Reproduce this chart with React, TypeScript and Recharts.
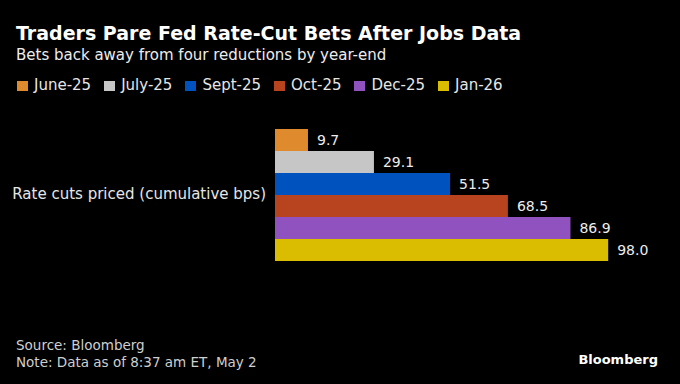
import { BarChart, Bar, XAxis, YAxis, LabelList } from "recharts";

const category = "Rate cuts priced (cumulative bps)";
const meetings = ["June-25", "July-25", "Sept-25", "Oct-25", "Dec-25", "Jan-26"];
const cutsPriced = [9.7, 29.1, 51.5, 68.5, 86.9, 98.0];

const COLORS = ["#E08A2E", "#C6C6C6", "#0052BE", "#B8431F", "#9052BE", "#DABC00"];

const FONT = "'DejaVu Sans', Verdana, sans-serif";

const row: Record<string, string | number> = { name: category };
meetings.forEach((m, i) => {
    row[m] = cutsPriced[i];
});
const data = [row];

function CategoryTick({ x, y, payload }: any) {
    return (
        <text x={x - 1} y={y} dy={5.5} textAnchor="end" fill="#E6E6E6" fontSize={15} fontFamily={FONT}>
            {payload.value}
        </text>
    );
}

export default function App() {
    return (
        <div
            style={{
                position: "fixed",
                left: 0,
                top: 0,
                width: 680,
                height: 384,
                background: "#000",
                fontFamily: FONT,
                color: "#fff",
                overflow: "hidden",
            }}
        >
            <svg width={680} height={384} style={{ position: "absolute", left: 0, top: 0 }} fontFamily={FONT}>
                <text x={16} y={40} fontSize={19} fontWeight={700} fill="#fff">
                    Traders Pare Fed Rate-Cut Bets After Jobs Data
                </text>
                <text x={16} y={60} fontSize={15} fill="#EDEDED">
                    Bets back away from four reductions by year-end
                </text>
                <text x={16} y={350} fontSize={13.5} fill="#CFCFCF">
                    Source: Bloomberg
                </text>
                <text x={16} y={367} fontSize={13.5} fill="#CFCFCF">
                    Note: Data as of 8:37 am ET, May 2
                </text>
                <text x={658} y={364} fontSize={13} fontWeight={700} fill="#fff" textAnchor="end">
                    Bloomberg
                </text>
            </svg>

            <div
                style={{
                    position: "absolute",
                    left: 17,
                    top: 78,
                    display: "flex",
                    fontSize: 15,
                    lineHeight: "15px",
                    color: "#E6E6E6",
                }}
            >
                {meetings.map((m, i) => (
                    <div key={m} style={{ display: "flex", alignItems: "center", marginRight: 13 }}>
                        <span
                            style={{
                                width: 11,
                                height: 10,
                                background: COLORS[i],
                                marginRight: 6,
                                display: "inline-block",
                            }}
                        />
                        {m}
                    </div>
                ))}
            </div>

            <div style={{ position: "absolute", left: 0, top: 0 }}>
                <BarChart
                    width={680}
                    height={384}
                    data={data}
                    layout="vertical"
                    barCategoryGap={0}
                    barGap={0}
                    margin={{ top: 129, bottom: 126, left: 15, right: 65 }}
                >
                    <XAxis type="number" domain={[0, 100]} hide />
                    <YAxis
                        type="category"
                        dataKey="name"
                        width={260}
                        axisLine={false}
                        tickLine={false}
                        tick={<CategoryTick />}
                    />
                    {meetings.map((m, i) => (
                        <Bar key={m} dataKey={m} fill={COLORS[i]} isAnimationActive={false}>
                            <LabelList
                                dataKey={m}
                                position="right"
                                offset={9}
                                fill="#EDEDED"
                                fontSize={14}
                                fontFamily={FONT}
                                formatter={(v: any) => Number(v).toFixed(1)}
                            />
                        </Bar>
                    ))}
                </BarChart>
            </div>
        </div>
    );
}
